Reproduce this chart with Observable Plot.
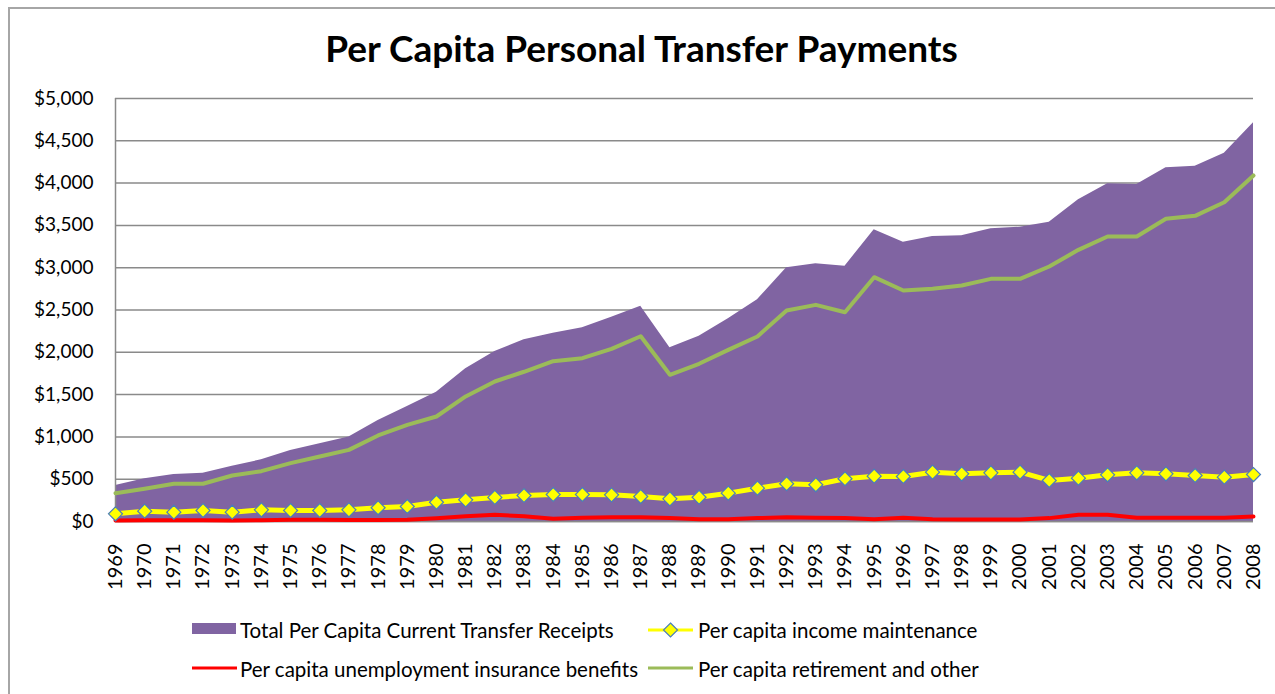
<!DOCTYPE html>
<html>
<head>
<meta charset="utf-8">
<script src="https://cdn.jsdelivr.net/npm/d3@7"></script>
<script src="https://cdn.jsdelivr.net/npm/@observablehq/plot@0.6"></script>
<style>
  html, body { margin: 0; padding: 0; background: #fff; }
  #wrap { position: relative; width: 1275px; height: 694px; overflow: hidden; font-family: Lato, "Liberation Sans", sans-serif; color: #000; }
  #frame { position: absolute; left: 8px; top: 7px; width: 1300px; height: 720px; border-left: 2px solid #a6a6a6; border-top: 2px solid #a6a6a6; box-sizing: border-box; }
  #title { position: absolute; left: 8px; width: 1267px; top: 27px; line-height: 42px; text-align: center; font-size: 37px; font-weight: bold; }
  #chart { position: absolute; left: 0; top: 0; }
  .lg { position: absolute; font-size: 20.5px; line-height: 24px; white-space: nowrap; }
  .sw { position: absolute; }
</style>
</head>
<body>
<div id="wrap">
  <div id="frame"></div>
  <div id="title">Per Capita Personal Transfer Payments</div>
  <div id="chart"></div>
  <div id="legend"></div>
</div>
<script>
const years = [1969,1970,1971,1972,1973,1974,1975,1976,1977,1978,
               1979,1980,1981,1982,1983,1984,1985,1986,1987,1988,
               1989,1990,1991,1992,1993,1994,1995,1996,1997,1998,
               1999,2000,2001,2002,2003,2004,2005,2006,2007,2008];

const totalReceipts = [425, 505, 555, 571, 654, 729, 839, 918, 1000, 1194,
                       1359, 1529, 1805, 2010, 2148, 2226, 2289, 2415, 2545, 2053,
                       2191, 2396, 2620, 2998, 3046, 3018, 3448, 3302, 3369, 3377,
                       3459, 3479, 3538, 3802, 3991, 3983, 4180, 4200, 4354, 4712];

const incomeMaintenance = [91, 122, 110, 130, 110, 138, 130, 130, 138, 162,
                           177, 228, 256, 285, 307, 319, 319, 315, 295, 268,
                           287, 335, 394, 446, 434, 505, 536, 532, 583, 563,
                           575, 583, 485, 512, 552, 575, 563, 544, 524, 555];

const unemployment = [12, 15, 15, 15, 12, 15, 20, 20, 18, 18,
                      20, 38, 62, 80, 63, 32, 43, 51, 51, 40,
                      28, 28, 40, 51, 43, 40, 28, 43, 28, 24,
                      24, 24, 40, 79, 79, 43, 43, 43, 43, 59];

const retirement = [335, 387, 446, 446, 544, 595, 690, 768, 847, 1017,
                    1143, 1241, 1478, 1655, 1770, 1895, 1931, 2041, 2190, 1734,
                    1864, 2029, 2187, 2494, 2561, 2474, 2888, 2730, 2750, 2790,
                    2868, 2868, 3014, 3211, 3369, 3369, 3578, 3613, 3774, 4090];

const yTicks = [0, 500, 1000, 1500, 2000, 2500, 3000, 3500, 4000, 4500, 5000];

const seriesNames = ["Total Per Capita Current Transfer Receipts",
                     "Per capita income maintenance",
                     "Per capita unemployment insurance benefits",
                     "Per capita retirement and other"];

const data = years.map((year, i) => ({
  year,
  total: totalReceipts[i],
  income: incomeMaintenance[i],
  unemployment: unemployment[i],
  retirement: retirement[i]
}));

const purple = "#8064A2", yellow = "#FFFF00", red = "#FF0000", green = "#9BBB59", diamondStroke = "#4A7EBB", gridColor = "#8a8a8a";

const chart = Plot.plot({
  width: 1275,
  height: 600,
  marginLeft: 115,
  marginRight: 22,
  marginTop: 98,
  marginBottom: 79,
  style: { fontFamily: "Lato, 'Liberation Sans', sans-serif", color: "#000", background: "transparent", overflow: "visible" },
  x: { type: "linear", domain: [1969, 2008], label: null },
  y: { domain: [0, 5000], label: null },
  marks: [
    Plot.gridY(yTicks, { stroke: gridColor, strokeOpacity: 1, strokeWidth: 1.5 }),
    Plot.areaY(data, { x: "year", y: "total", fill: purple }),
    Plot.ruleX([1969], { stroke: gridColor, strokeWidth: 1.5 }),
    Plot.ruleY([0], { stroke: gridColor, strokeWidth: 1.5 }),
    Plot.lineY(data, { x: "year", y: "unemployment", stroke: red, strokeWidth: 4 }),
    Plot.lineY(data, { x: "year", y: "income", stroke: yellow, strokeWidth: 5 }),
    Plot.dot(data, { x: "year", y: "income", symbol: "diamond2", r: 6.3, fill: yellow, stroke: diamondStroke, strokeWidth: 1.2 }),
    Plot.lineY(data, { x: "year", y: "retirement", stroke: green, strokeWidth: 4 }),
    Plot.axisY(yTicks, { tickSize: 0, tickPadding: 22, tickFormat: d3.format("$,"), fontSize: 19, label: null }),
    Plot.axisX(years, { tickSize: 0, tickPadding: 22, tickRotate: -90, tickFormat: d => String(d), fontSize: 20, label: null })
  ]
});
document.getElementById("chart").appendChild(chart);

// Legend (HTML, below the chart area)
const legend = document.getElementById("legend");
function addText(x, cy, txt) {
  const d = document.createElement("div");
  d.className = "lg";
  d.style.left = x + "px";
  d.style.top = (cy - 12) + "px";
  d.textContent = txt;
  legend.appendChild(d);
}
function addSwatch(x, cy, kind, color) {
  const ns = "http://www.w3.org/2000/svg";
  const s = document.createElementNS(ns, "svg");
  s.setAttribute("class", "sw");
  s.setAttribute("width", 46);
  s.setAttribute("height", 18);
  s.style.left = x + "px";
  s.style.top = (cy - 9) + "px";
  s.style.position = "absolute";
  if (kind === "rect") {
    const r = document.createElementNS(ns, "rect");
    r.setAttribute("x", 0); r.setAttribute("y", 3); r.setAttribute("width", 44); r.setAttribute("height", 11);
    r.setAttribute("fill", color);
    s.appendChild(r);
  } else {
    const l = document.createElementNS(ns, "line");
    l.setAttribute("x1", 0); l.setAttribute("x2", 45); l.setAttribute("y1", 9); l.setAttribute("y2", 9);
    l.setAttribute("stroke", color); l.setAttribute("stroke-width", 3);
    s.appendChild(l);
    if (kind === "diamond") {
      const p = document.createElementNS(ns, "path");
      p.setAttribute("d", "M22.5,2 L29.5,9 L22.5,16 L15.5,9 Z");
      p.setAttribute("fill", color); p.setAttribute("stroke", diamondStroke); p.setAttribute("stroke-width", 1.2);
      s.appendChild(p);
    }
  }
  legend.appendChild(s);
}
addSwatch(192, 629, "rect", purple);      addText(240, 630, seriesNames[0]);
addSwatch(648, 630, "diamond", yellow);   addText(698, 630, seriesNames[1]);
addSwatch(192, 668, "line", red);         addText(240, 669, seriesNames[2]);
addSwatch(648, 668, "line", green);       addText(698, 669, seriesNames[3]);
</script>
</body>
</html>
